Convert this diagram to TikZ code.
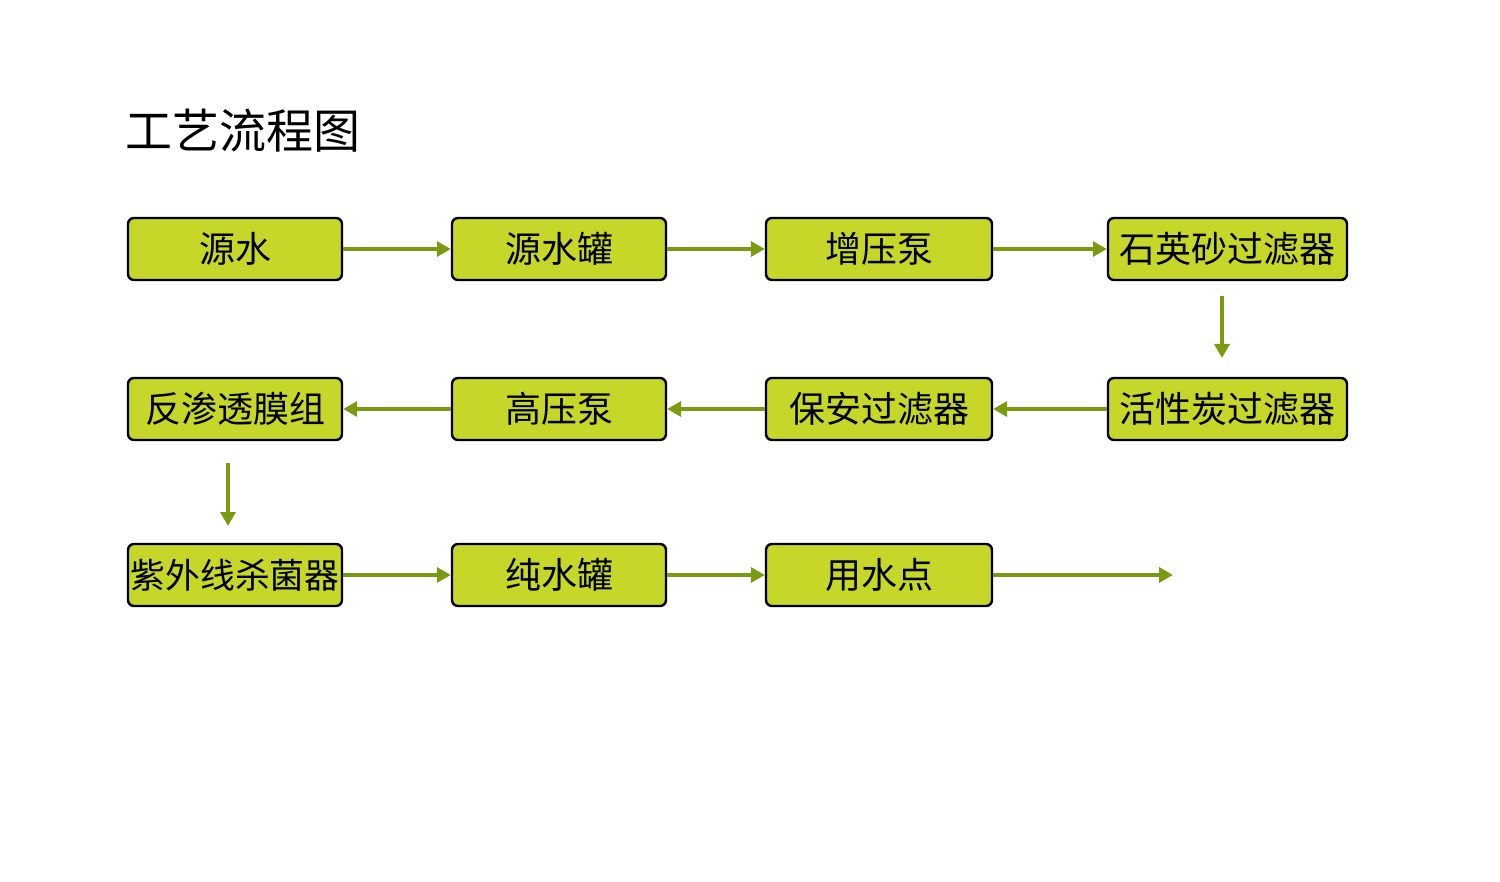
\documentclass[tikz,border=0pt]{standalone}
\usepackage{fontspec}
\setmainfont{Noto Sans CJK SC}
\usetikzlibrary{arrows.meta}
\definecolor{boxfill}{HTML}{C6D72A}
\definecolor{arrowgreen}{HTML}{7A9A12}
\begin{document}
\begin{tikzpicture}[x=0.5pt,y=-0.5pt,
  procbox/.style={draw=black,line width=1.2pt,fill=boxfill,rounded corners=3pt,
    minimum width=#1*0.5pt,minimum height=31pt,inner sep=0pt,
    font=\fontsize{18}{18}\selectfont},
  procbox/.default=214,
  flow/.style={draw=arrowgreen,line width=2.2pt,-{Triangle[length=7pt,width=7.5pt]}}]
\useasboundingbox (0,0) rectangle (1500,882);
\node[anchor=west,font=\fontsize{23.5}{23.5}\selectfont] (title) at (118,131) {工艺流程图};
% row 1
\node[procbox=214] (a1) at (235,249) {源水};
\node[procbox=214] (a2) at (559,249) {源水罐};
\node[procbox=226] (a3) at (879,249) {增压泵};
\node[procbox=239] (a4) at (1227.5,249) {石英砂过滤器};
% row 2
\node[procbox=214] (b1) at (235,409) {反渗透膜组};
\node[procbox=214] (b2) at (559,409) {高压泵};
\node[procbox=226] (b3) at (879,409) {保安过滤器};
\node[procbox=239] (b4) at (1227.5,409) {活性炭过滤器};
% row 3
\node[procbox=214,font=\fontsize{17.4}{17.4}\selectfont] (c1) at (235,575) {紫外线杀菌器};
\node[procbox=214] (c2) at (559,575) {纯水罐};
\node[procbox=226] (c3) at (879,575) {用水点};
\coordinate (end) at (1173,575);
\coordinate (v1s) at (1222,296);
\coordinate (v1e) at (1222,358);
\coordinate (v2s) at (228,463);
\coordinate (v2e) at (228,526);
% arrows
\draw[flow] (a1.east) -- (a2.west);
\draw[flow] (a2.east) -- (a3.west);
\draw[flow] (a3.east) -- (a4.west);
\draw[flow] (v1s) -- (v1e);
\draw[flow] (b4.west) -- (b3.east);
\draw[flow] (b3.west) -- (b2.east);
\draw[flow] (b2.west) -- (b1.east);
\draw[flow] (v2s) -- (v2e);
\draw[flow] (c1.east) -- (c2.west);
\draw[flow] (c2.east) -- (c3.west);
\draw[flow] (c3.east) -- (end);
\end{tikzpicture}
\end{document}
